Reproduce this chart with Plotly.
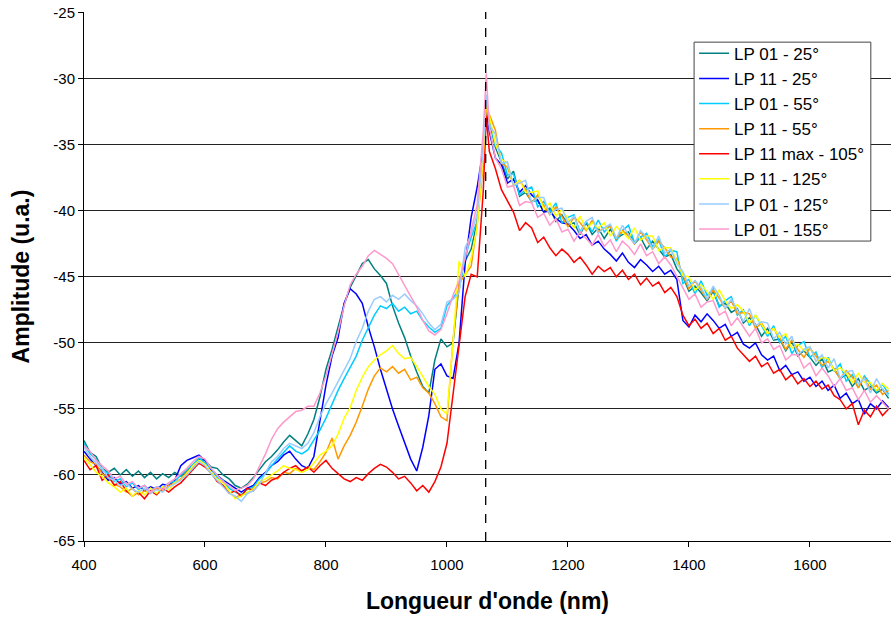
import plotly.graph_objects as go

# Wavelength grid (nm)
wavelength = list(range(400, 1061, 10)) + [1065] + list(range(1070, 1731, 10))

series_names = ["LP 01 - 25°", "LP 11 - 25°", "LP 01 - 55°", "LP 11 - 55°",
                "LP 11 max - 105°", "LP 11 - 125°", "LP 01 - 125°", "LP 01 - 155°"]
series_colors = ["#008080", "#0000FF", "#00CCFF", "#FF9900",
                 "#FF0000", "#FFFF00", "#99CCFF", "#FF99CC"]

lp01_25 = [
    -57.4, -58.3, -58.6, -59.5, -59.8, -59.5, -60.0, -59.6, -60.1, -59.7,
    -60.2, -59.8, -60.3, -59.9, -60.2, -59.8, -60.1, -59.7, -59.3, -58.8,
    -58.9, -59.4, -59.5, -60.0, -60.3, -60.8, -61.0, -60.7, -60.2, -59.6,
    -59.0, -58.6, -58.1, -57.5, -57.0, -57.4, -57.8, -56.9, -55.8, -54.1,
    -52.0, -50.5, -48.7, -47.1, -45.8, -44.9, -44.0, -43.7, -44.4, -44.9,
    -45.5, -47.2, -48.5, -49.6, -51.0, -52.2, -53.3, -53.8, -51.3, -49.7,
    -50.3, -50.0, -45.6, -43.8, -42.9, -40.8, -35.5, -31.8,
    -33.2, -35.2, -36.3, -37.6, -37.0, -38.9, -38.6, -39.3, -39.2, -40.1,
    -39.8, -40.8, -40.3, -41.1, -40.9, -41.8, -40.9, -41.8, -41.3, -42.1,
    -41.4, -42.1, -41.8, -41.6, -42.5, -42.0, -42.9, -42.3, -42.9, -43.5,
    -43.3, -44.4, -45.0, -46.1, -45.7, -46.2, -46.8, -46.1, -47.2, -47.0,
    -47.7, -47.4, -48.5, -48.1, -48.6, -49.5, -48.9, -49.8, -49.7, -50.6,
    -49.9, -51.0, -50.6, -51.1, -51.7, -51.2, -52.2, -52.0, -52.7, -52.4,
    -53.3, -52.7, -53.6, -53.3, -53.8, -53.5, -54.2,
]

lp11_25 = [
    -58.2, -58.8, -59.3, -59.8, -60.4, -60.2, -60.7, -60.5, -61.0, -60.8,
    -61.2, -60.9, -61.1, -60.7, -60.8, -60.4, -59.3, -58.9, -58.7, -58.5,
    -58.9, -59.6, -60.0, -60.4, -60.7, -61.0, -61.3, -61.0, -60.8, -60.2,
    -59.8, -59.3, -59.0, -58.5, -58.2, -58.8, -59.3, -59.5, -58.6, -55.9,
    -53.2, -51.0, -49.6, -47.0, -45.9, -46.3, -47.0, -48.8, -50.3, -52.0,
    -53.5, -55.0, -56.3, -57.6, -58.8, -59.7, -57.9, -55.5, -52.0, -51.6,
    -52.5, -52.7, -50.0, -44.0, -40.5, -38.2, -35.3, -32.5,
    -34.0, -36.0, -36.5, -37.9, -37.6, -38.6, -38.1, -38.8, -39.2, -40.1,
    -40.0, -40.6, -40.9, -41.0, -41.5, -42.1, -41.8, -42.6, -42.3, -42.9,
    -43.3, -43.8, -43.2, -43.9, -44.3, -43.7, -44.1, -44.6, -44.2, -44.8,
    -44.5, -45.2, -48.3, -48.8, -47.9, -48.4, -47.8, -48.3, -48.9, -48.6,
    -49.5, -49.2, -50.1, -50.4, -50.0, -50.9, -51.3, -51.0, -52.1, -51.7,
    -52.4, -52.2, -52.9, -52.6, -53.3, -52.9, -53.6, -53.2, -54.2, -53.8,
    -54.6, -54.3, -55.4, -54.6, -55.0, -54.4, -54.9,
]

lp01_55 = [
    -57.6, -58.4, -58.8, -59.6, -59.9, -60.5, -60.3, -60.9, -60.6, -61.1,
    -60.8, -61.2, -60.9, -61.0, -60.6, -60.5, -60.0, -59.6, -59.2, -58.7,
    -59.1, -59.5, -60.2, -60.4, -61.0, -61.3, -61.5, -61.1, -60.9, -60.3,
    -59.9, -59.3, -58.8, -58.3, -57.8, -58.2, -58.4, -58.1, -57.4, -56.6,
    -55.7, -54.6, -53.6, -52.7, -51.9, -51.0, -49.8, -48.9, -47.9, -47.2,
    -47.4, -47.0, -47.6, -47.3, -47.8, -47.6, -48.3, -48.8, -49.2, -48.9,
    -47.2, -46.6, -46.0, -43.5, -42.0, -40.8, -36.0, -31.5,
    -33.0, -35.1, -35.6, -37.3, -37.2, -38.8, -38.4, -38.2, -39.7, -39.3,
    -40.1, -39.4, -40.9, -40.5, -40.3, -41.6, -40.8, -41.6, -40.7, -41.6,
    -41.1, -42.3, -41.5, -41.1, -42.4, -42.0, -41.7, -42.7, -42.2, -43.5,
    -43.0, -43.1, -45.5, -45.2, -46.3, -45.3, -46.4, -45.9, -47.3, -46.8,
    -46.5, -47.9, -47.5, -48.7, -47.9, -48.7, -49.5, -48.7, -50.0, -49.5,
    -50.8, -50.2, -49.9, -51.1, -50.7, -51.9, -51.1, -52.1, -51.6, -52.9,
    -52.4, -53.4, -52.5, -53.1, -53.7, -53.1, -53.9,
]

lp11_55 = [
    -58.5, -59.0, -59.2, -59.9, -60.2, -60.7, -60.9, -61.3, -61.0, -61.5,
    -61.2, -61.4, -61.0, -61.2, -60.8, -60.6, -60.3, -59.8, -59.4, -59.0,
    -59.3, -59.9, -60.4, -60.8, -61.3, -61.7, -61.5, -61.4, -61.0, -60.6,
    -60.5, -60.2, -60.3, -59.8, -59.9, -59.5, -59.7, -59.4, -59.6, -59.0,
    -58.3, -57.2, -58.8, -57.8, -57.0, -56.0, -54.8, -53.5, -52.5, -51.9,
    -52.2, -51.8, -52.3, -52.0, -52.8, -52.6, -53.4, -53.8, -54.6, -55.6,
    -55.9, -49.8, -45.5, -44.8, -44.2, -41.0, -36.5, -32.2,
    -32.7, -33.9, -36.4, -36.7, -38.1, -37.7, -38.4, -39.4, -38.8, -39.6,
    -40.3, -39.7, -40.4, -41.2, -40.5, -40.9, -41.5, -40.7, -41.6, -41.3,
    -41.2, -42.1, -41.5, -41.9, -42.5, -41.6, -42.2, -42.9, -42.3, -42.8,
    -43.5, -43.6, -44.9, -45.9, -45.3, -46.0, -46.7, -46.0, -46.6, -47.4,
    -46.8, -47.8, -47.7, -47.8, -48.9, -48.5, -49.3, -48.9, -49.6, -50.5,
    -49.8, -50.5, -51.1, -50.4, -51.0, -51.7, -51.4, -52.0, -52.7, -52.1,
    -52.6, -53.4, -52.6, -53.5, -53.2, -53.9, -53.6,
]

lp11max_105 = [
    -58.9, -59.6, -59.3, -60.4, -60.0, -60.8, -60.5, -61.2, -61.6, -61.3,
    -61.8, -61.2, -61.5, -61.0, -61.3, -60.9, -60.6, -60.1, -59.6, -59.1,
    -59.4, -59.8, -60.5, -60.8, -61.4, -61.2, -61.6, -61.0, -61.2, -60.6,
    -60.8, -60.4, -60.2, -59.8, -59.5, -59.3, -59.7, -59.4, -59.8, -59.3,
    -58.9, -59.5, -59.9, -60.3, -60.5, -60.2, -60.4, -59.9, -59.5, -59.2,
    -59.4, -59.8, -60.3, -60.1, -60.6, -61.2, -60.8, -61.3, -60.5, -59.4,
    -57.6, -53.8, -50.0, -46.5, -44.8, -45.0, -38.5, -32.8,
    -35.5, -36.8, -38.4, -39.2, -40.1, -41.5, -40.9, -41.3, -42.4, -42.0,
    -42.8, -43.4, -42.9, -43.3, -43.9, -43.5, -44.1, -44.8, -44.2, -44.6,
    -44.3, -45.0, -44.5, -45.2, -44.8, -45.6, -45.1, -45.7, -45.4, -46.2,
    -45.8, -46.5, -47.9, -48.7, -48.2, -48.9, -48.5, -49.3, -48.9, -49.8,
    -49.5, -50.4, -50.9, -51.4, -51.0, -51.8, -51.5, -52.3, -52.0, -52.8,
    -52.4, -53.1, -52.7, -53.3, -52.9, -53.5, -53.2, -54.0, -54.3, -55.0,
    -54.6, -56.2, -55.1, -55.6, -54.8, -55.5, -55.0,
]

lp11_125 = [
    -58.7, -59.2, -59.8, -60.1, -60.6, -60.9, -61.3, -61.0, -61.6, -61.2,
    -61.5, -61.0, -61.4, -60.9, -61.1, -60.6, -60.4, -59.9, -59.3, -58.9,
    -59.2, -59.8, -60.3, -60.6, -61.2, -61.8, -61.6, -61.3, -61.1, -60.5,
    -60.3, -60.0, -59.7, -59.3, -59.5, -59.6, -59.8, -59.6, -59.1, -58.5,
    -58.2, -57.8, -56.9, -55.7, -54.9, -53.6, -52.6, -51.8, -51.3, -50.9,
    -50.6, -50.2, -50.8, -51.2, -51.1, -51.8, -52.6, -53.3, -53.9, -55.0,
    -55.4, -50.0, -43.8, -45.0, -43.6, -41.2, -35.8, -31.6,
    -32.8, -34.9, -36.1, -36.4, -38.1, -37.7, -38.6, -38.6, -38.5, -39.9,
    -39.4, -40.4, -39.9, -40.6, -41.3, -40.4, -41.4, -40.9, -41.3, -40.9,
    -41.9, -41.2, -41.6, -42.1, -41.3, -42.2, -41.9, -41.9, -43.0, -42.8,
    -42.8, -43.8, -44.9, -45.0, -46.0, -45.6, -46.1, -46.7, -46.0, -46.8,
    -47.4, -47.1, -47.6, -48.5, -47.9, -48.6, -49.3, -48.9, -49.6, -49.3,
    -50.4, -50.1, -50.6, -50.3, -51.4, -51.1, -51.2, -52.1, -51.9, -52.3,
    -53.0, -52.3, -53.0, -53.0, -53.6, -53.1, -53.5,
]

lp01_125 = [
    -57.9, -58.6, -59.1, -59.5, -60.2, -60.4, -60.8, -60.6, -61.1, -61.3,
    -61.0, -61.4, -61.1, -61.3, -60.9, -60.7, -60.4, -60.0, -59.5, -59.0,
    -59.3, -59.9, -60.4, -60.9, -61.4, -61.6, -62.0, -61.4, -61.2, -60.7,
    -59.9, -59.0, -58.6, -58.0, -57.6, -57.8, -58.0, -57.6, -56.8, -55.6,
    -54.6, -53.8, -52.9, -52.0, -51.2, -49.9, -48.9, -47.6, -46.7, -46.5,
    -46.9, -46.4, -46.7, -46.3, -46.8, -47.2, -47.8, -48.5, -49.0, -48.6,
    -46.9, -46.7, -46.2, -42.8, -41.8, -40.2, -35.2, -31.2,
    -33.5, -34.2, -36.4, -36.3, -38.1, -37.9, -37.7, -39.4, -39.0, -39.0,
    -40.3, -39.9, -39.8, -40.9, -40.4, -41.7, -40.8, -40.5, -41.7, -41.3,
    -41.0, -42.1, -41.1, -41.8, -42.5, -41.5, -42.0, -42.9, -41.9, -43.2,
    -42.9, -44.0, -44.6, -45.7, -45.3, -45.8, -46.7, -45.7, -46.4, -47.4,
    -46.7, -47.5, -48.4, -47.4, -48.7, -48.4, -48.5, -49.7, -49.2, -50.1,
    -49.5, -50.9, -50.5, -50.3, -51.4, -50.9, -51.9, -51.2, -52.7, -52.2,
    -52.1, -53.1, -52.7, -53.8, -52.7, -53.5, -54.0,
]

lp01_155 = [
    -57.8, -58.2, -58.9, -59.3, -59.7, -60.3, -60.1, -60.7, -60.5, -61.0,
    -60.8, -61.3, -60.9, -61.1, -60.6, -60.3, -59.9, -59.5, -59.0, -58.6,
    -58.8, -59.5, -60.0, -60.5, -60.8, -61.2, -61.0, -60.8, -60.3, -59.4,
    -58.4, -57.3, -56.5, -56.0, -55.6, -55.2, -55.1, -54.8, -54.8, -53.8,
    -52.5, -50.8, -49.2, -47.2, -45.6, -44.8, -44.2, -43.4, -43.0, -43.3,
    -43.6, -44.0, -44.8, -45.7, -46.5, -47.3, -48.3, -49.1, -49.4, -49.0,
    -47.8, -46.4, -45.3, -43.6, -41.5, -39.5, -34.0, -29.6,
    -33.7, -36.0, -36.8, -38.2, -38.1, -39.6, -39.3, -39.4, -40.5, -40.2,
    -41.1, -40.6, -41.6, -41.4, -42.3, -41.6, -42.1, -42.6, -41.8, -42.7,
    -42.2, -43.1, -42.3, -42.7, -43.3, -42.5, -43.4, -43.1, -44.0, -43.5,
    -44.1, -45.0, -45.8, -46.7, -46.3, -47.3, -46.9, -46.8, -47.9, -47.6,
    -48.7, -48.1, -48.8, -49.5, -48.9, -50.0, -49.7, -50.5, -50.2, -51.3,
    -50.9, -50.9, -51.9, -51.5, -52.5, -51.9, -52.5, -53.3, -52.7, -53.6,
    -53.4, -54.3, -53.6, -54.5, -54.0, -54.5, -55.0,
]

series_values = [lp01_25, lp11_25, lp01_55, lp11_55, lp11max_105, lp11_125, lp01_125, lp01_155]

for name, vals in zip(series_names, series_values):
    if len(vals) != len(wavelength):
        print("length mismatch", name, len(vals), len(wavelength))

x_ticks = [400, 600, 800, 1000, 1200, 1400, 1600]
x_tick_labels = ["400", "600", "800", "1000", "1200", "1400", "1600"]
y_ticks = [-65, -60, -55, -50, -45, -40, -35, -30, -25]
y_tick_labels = ["-65", "-60", "-55", "-50", "-45", "-40", "-35", "-30", "-25"]
marker_wavelength = 1064

fig = go.Figure()
for name, color, vals in zip(series_names, series_colors, series_values):
    fig.add_trace(go.Scatter(x=wavelength, y=vals, mode="lines", name=name,
                             line=dict(color=color, width=1.5)))

fig.add_shape(type="line", x0=marker_wavelength, x1=marker_wavelength, xref="x",
              y0=0, y1=1, yref="paper", line=dict(color="black", width=1.3, dash="dash"))

# Legend frame (the legend itself is drawn without a border on top of it)
fig.add_shape(type="rect", xref="paper", yref="paper",
              x0=0.756, x1=0.975, y0=0.567, y1=0.943,
              fillcolor="white", line=dict(color="#444", width=1), layer="above")

font_family = "Arial, Liberation Sans, sans-serif"
fig.update_layout(
    width=892, height=619,
    margin=dict(l=84, r=1, t=12, b=78, autoexpand=False),
    paper_bgcolor="white", plot_bgcolor="white",
    font=dict(family=font_family, color="black", size=15),
    showlegend=True,
    legend=dict(x=0.756, y=0.955, xanchor="left", yanchor="top",
                bgcolor="rgba(0,0,0,0)", borderwidth=0,
                font=dict(size=17, family=font_family, color="black"),
                tracegroupgap=0),
)
fig.update_xaxes(range=[400, 1734], tickvals=x_ticks, ticktext=x_tick_labels,
                 ticks="outside", ticklen=5, ticklabelstandoff=5,
                 tickcolor="black", showline=True, linecolor="black", linewidth=1,
                 showgrid=False, zeroline=False, tickfont=dict(size=15),
                 title=dict(text="<b>Longueur d'onde (nm)</b>", font=dict(size=23), standoff=20),
                 automargin=False)
fig.update_yaxes(range=[-65, -24.95], tickvals=y_ticks, ticktext=y_tick_labels,
                 ticks="outside", ticklen=5, ticklabeloverflow="allow",
                 tickcolor="black", showline=True, linecolor="black", linewidth=1,
                 showgrid=True, gridcolor="#222", gridwidth=1, zeroline=False,
                 tickfont=dict(size=15),
                 title=dict(text="<b>Amplitude (u.a.)</b>", font=dict(size=23), standoff=17),
                 automargin=False)

fig.write_html("out.html", config={"displayModeBar": False},
               post_script="document.body.style.margin='0';document.body.style.overflow='hidden';")
